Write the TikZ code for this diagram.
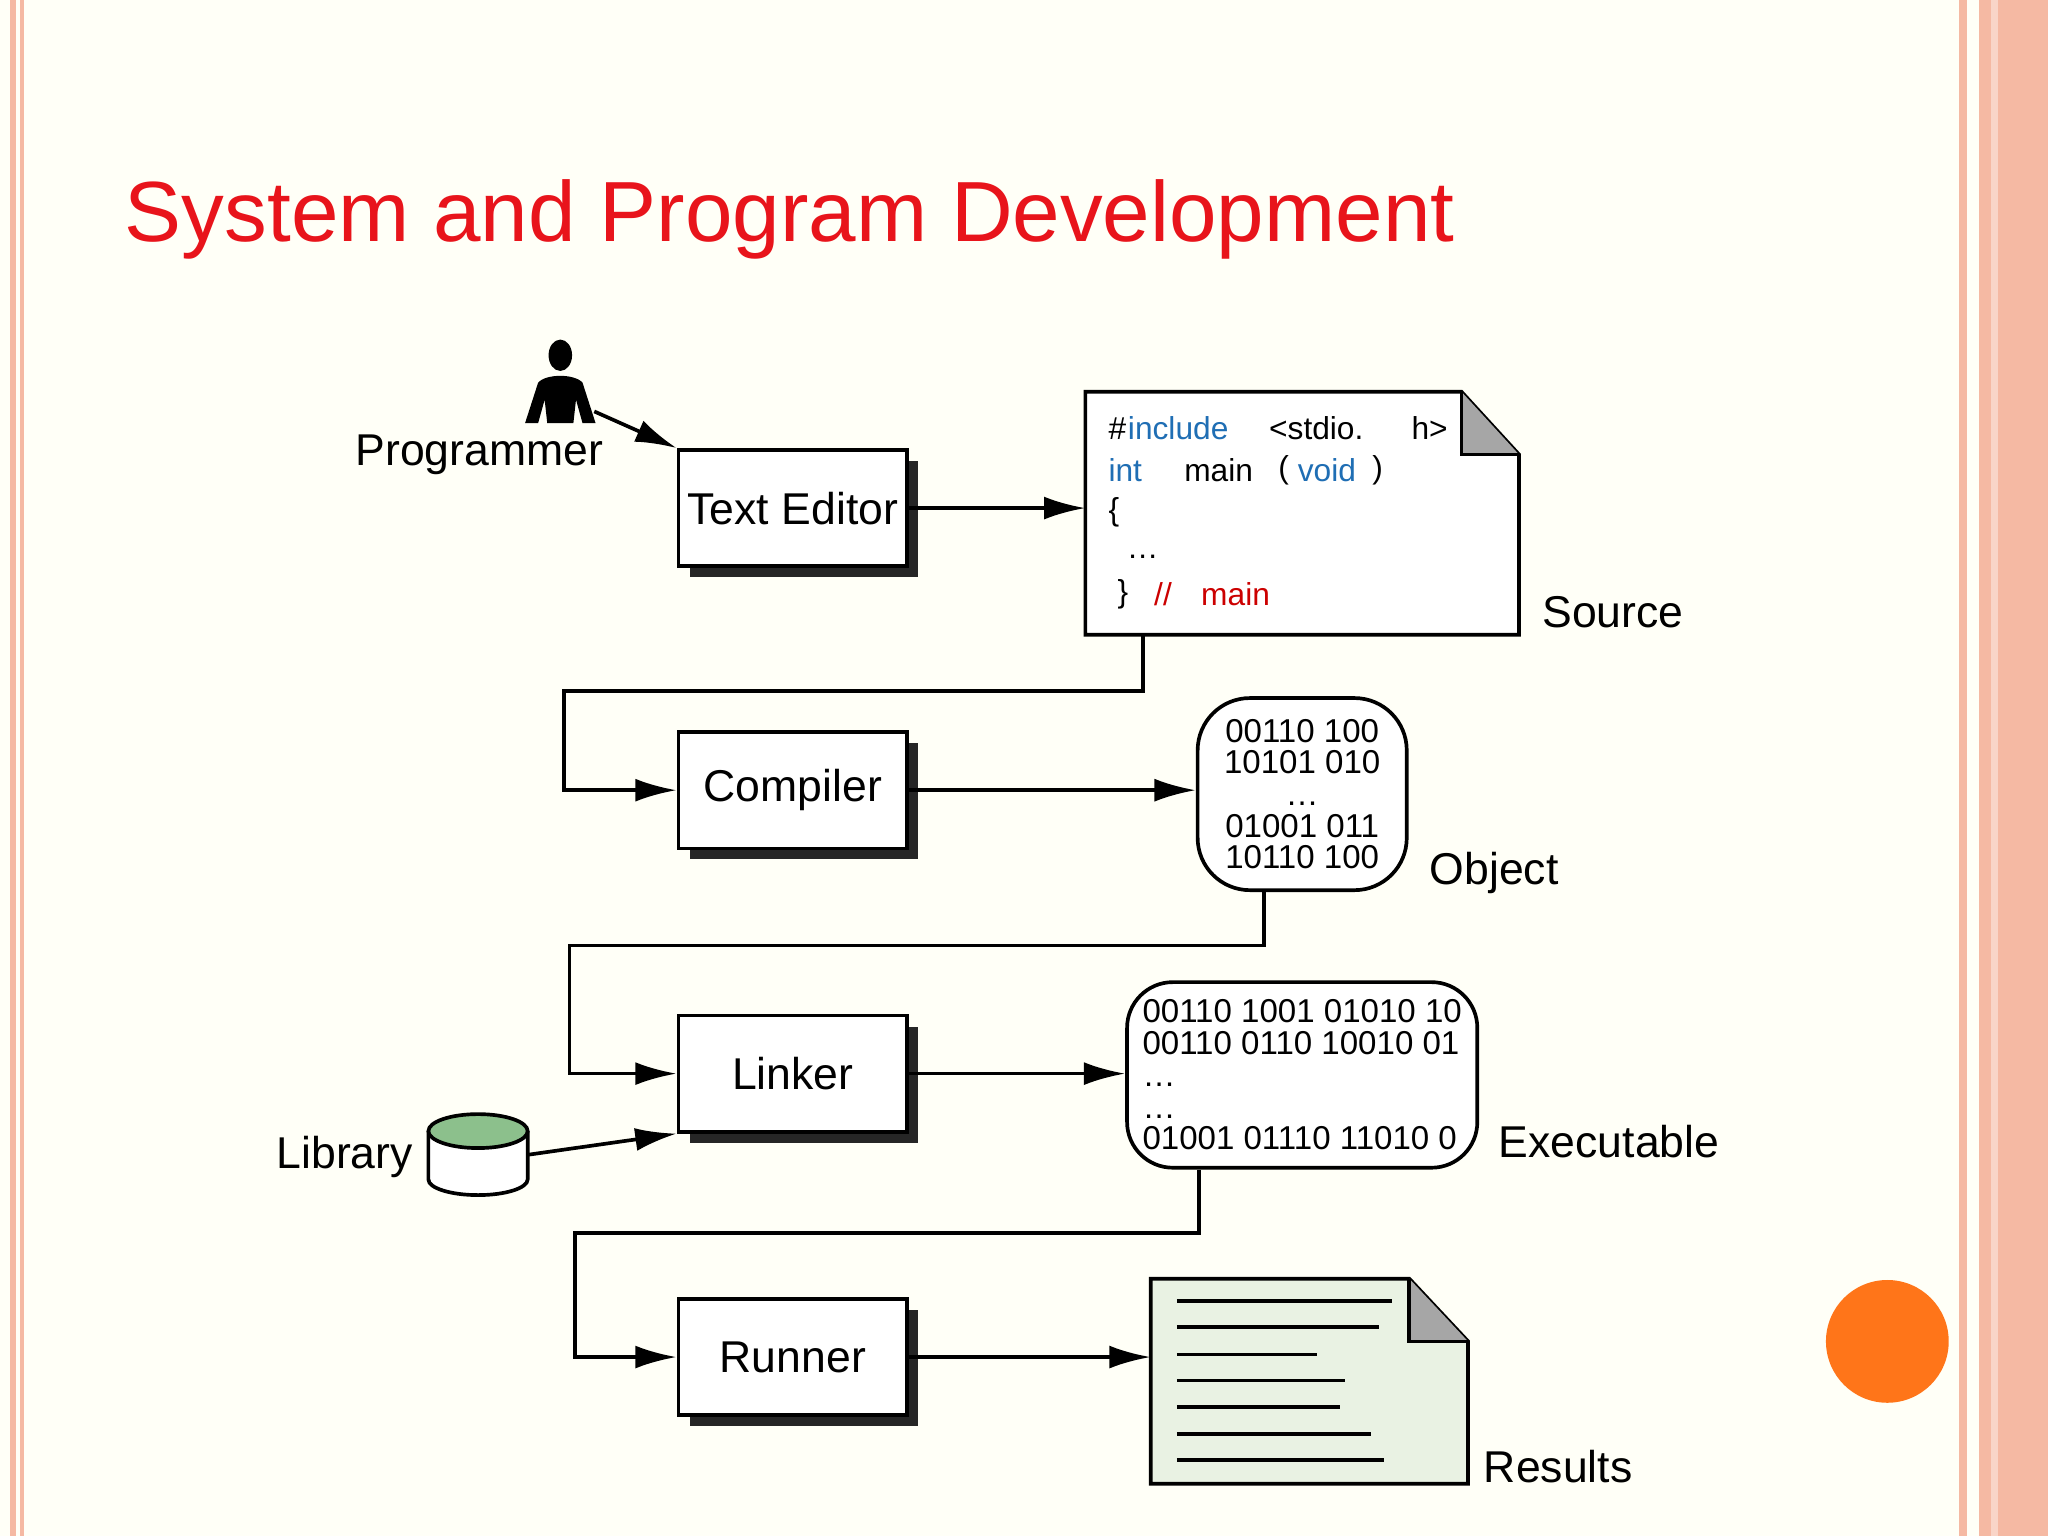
\documentclass[tikz,border=0pt]{standalone}
\usepackage{fontspec}
\setmainfont{Liberation Sans}
\usetikzlibrary{arrows.meta,shapes.geometric}
\definecolor{titlered}{HTML}{E8141B}
\definecolor{codeblue}{HTML}{1F6EB4}
\definecolor{frame}{HTML}{F5B9A3}
\definecolor{paper}{HTML}{E9F2E3}
\begin{document}
\begin{tikzpicture}[x=0.01cm,y=-0.01cm,
  tool/.style={rectangle,draw,thick,fill=white,minimum width=1.75cm,minimum height=0.89cm,inner sep=1pt,font=\fontsize{9.7}{11}\selectfont},
  shadow/.style={fill=black!85},
  label/.style={font=\fontsize{9.7}{11}\selectfont},
  code/.style={font=\fontsize{6.9}{8}\selectfont,anchor=west,inner sep=0},
  kw/.style={code,text=codeblue},
  bits/.style={draw,thick,fill=white,inner sep=2pt,font=\fontsize{7.2}{6.9}\selectfont},
  link/.style={thick,-{Latex[length=9pt,width=5pt]}}
  ]
  % page
  \fill[white!97!yellow] (0,0) rectangle (1568,1176);
  \useasboundingbox (0,0) rectangle (1568,1176);
  \fill[frame] (8,0) rectangle (12,1176);
  \fill[frame] (15,0) rectangle (18,1176);
  \fill[frame] (1500,0) rectangle (1506,1176);
  \fill[frame] (1515,0) rectangle (1568,1176);
  \fill[frame!60] (1524,0) rectangle (1530,1176);
  \fill[orange!80!red!90] (1445,1027) circle (47);
  \node[anchor=base west,text=titlered,font=\fontsize{18.6}{22}\selectfont,inner sep=0] (title) at (95,185) {System and Program Development};

  % programmer
  \fill (429,272) ellipse (9 and 12);
  \fill (402,324) -- (412,293) .. controls (418,286) and (440,286) .. (446,293) -- (456,324) -- (446,324) -- (441,306) -- (439,324) -- (419,324) -- (417,306) -- (412,324) -- cycle;
  \coordinate (hand) at (455,315);
  \node[label] (prog) at (367,348) {Programmer};

  % tools with shadows
  \foreach \n/\t/\y in {edit/Text Editor/389, comp/Compiler/605, link/Linker/822, run/Runner/1039}{
    \fill[shadow] (528,\y-36) rectangle (703,\y+53);
    \node[tool] (\n) at (607,\y) {\t};
  }

  % source document
  \draw[thick,fill=white] (831,300) -- (1119,300) -- (1163,348) -- (1163,486) -- (831,486) -- cycle;
  \fill[black!35] (1119,300) -- (1119,348) -- (1163,348) -- cycle;
  \draw[thick] (1119,300) -- (1119,348) -- (1163,348);
  \coordinate (srcw) at (831,389);
  \coordinate (srcs) at (875,486);
  \node[code] (c1) at (848,328) {\#};
  \node[kw] (c2) at (c1.east) {include};
  \node[code] (c3) at (971,328) {\textless stdio.};
  \node[code] (c4) at (1080,328) {h\textgreater};
  \node[kw] (c5) at (848,360) {int};
  \node[code] (c6) at (906,360) {main};
  \node[code] (c7) at (978,360) {(};
  \node[kw] (c8) at (993,360) {void};
  \node[code] (c9) at (1050,360) {)};
  \node[code] (c10) at (848,392) {\{};
  \node[code] (c11) at (862,426) {\dots};
  \node[code] (c12) at (855,455) {\}};
  \node[code,text=red!80!black] (c13) at (883,455) {//};
  \node[code,text=red!80!black] (c14) at (919,455) {main};
  \node[label] (srcl) at (1235,469) {Source};

  % object
  \node[bits,rounded corners=0.4cm,minimum width=1.6cm,minimum height=1.47cm,align=center] (obj) at (997,608)
    {00110 100\\10101 010\\\dots\\01001 011\\10110 100};
  \node[label] (objl) at (1144,668) {Object};

  % executable
  \node[bits,rounded corners=0.35cm,minimum width=2.68cm,minimum height=1.42cm,align=left] (exe) at (997,823)
    {00110 1001 01010 10\\00110 0110 10010 01\\\dots\\\dots\\01001 01110 11010 0};
  \node[label] (exel) at (1232,874) {Executable};

  % results
  \draw[thick,fill=paper] (881,979) -- (1079,979) -- (1124,1027) -- (1124,1136) -- (881,1136) -- cycle;
  \fill[black!35] (1079,979) -- (1079,1027) -- (1124,1027) -- cycle;
  \draw[thick] (1079,979) -- (1079,1027) -- (1124,1027);
  \foreach \y/\e in {996/1066,1016/1056,1037/1008,1057/1030,1077/1026,1098/1050,1118/1060}
    \draw[thick] (901,\y) -- (\e,\y);
  \coordinate (resw) at (881,1040);
  \node[label] (resl) at (1193,1123) {Results};

  % library
  \draw[thick,fill=white] (328,866) -- (328,903) arc (180:0:38 and 12) -- (404,866);
  \draw[thick,fill=green!45!black!45!white] (366,866) ellipse (38 and 13);
  \coordinate (libe) at (405,884);
  \node[label] (libl) at (264,886) {Library};

  % connectors
  \draw[link] (hand) -- (edit.north west);
  \draw[link] (edit.east) -- (srcw);
  \draw[link] (srcs) -- (875,529) -- (432,529) |- (comp.west);
  \draw[link] (comp.east) -- (comp.east -| obj.west);
  \draw[link] (obj.south -| 968,0) -- (968,724) -- (436,724) |- (link.west);
  \draw[link] (link.east) -- (link.east -| exe.west);
  \draw[link] (exe.south -| 918,0) -- (918,944) -- (440,944) |- (run.west);
  \draw[link] (run.east) -- (run.east -| resw);
  \draw[link] (libe) -- (link.south west);
\end{tikzpicture}
\end{document}
